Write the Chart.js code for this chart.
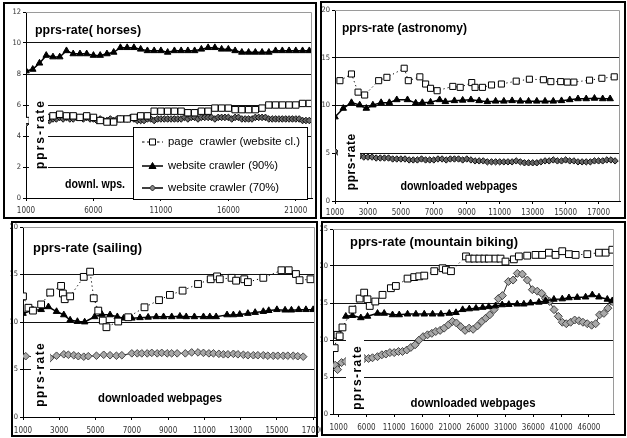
<!DOCTYPE html>
<html>
<head>
<meta charset="utf-8">
<script src="https://cdn.jsdelivr.net/npm/chart.js@4.4.1/dist/chart.umd.min.js"></script>
<style>
  html, body { margin:0; padding:0; background:#fff; }
  #wrap { position:relative; width:627px; height:438px; overflow:hidden; background:#fff; }
  canvas { position:absolute; }
  .bx { position:absolute; box-sizing:border-box; border:2px solid #000; pointer-events:none; }
</style>
</head>
<body>
<div id="wrap">
  <canvas id="c1" width="318" height="220" style="left:0;top:0"></canvas>
  <canvas id="c2" width="309" height="220" style="left:318px;top:0"></canvas>
  <canvas id="c3" width="322" height="218" style="left:0;top:220px"></canvas>
  <canvas id="c4" width="309" height="218" style="left:318px;top:220px"></canvas>
  <div class="bx" style="left:3px;top:2px;width:314px;height:217px"></div>
  <div class="bx" style="left:320px;top:1px;width:306px;height:218px"></div>
  <div class="bx" style="left:11px;top:221px;width:307px;height:216px"></div>
  <div class="bx" style="left:321px;top:221px;width:305px;height:215px"></div>
</div>
<script>
// ---------------- DATA ----------------
const seriesNames = ['page  crawler (website cl.)', 'website crawler (90%)', 'website crawler (70%)'];

// horses
const horsesTicksX = [1000, 6000, 11000, 16000, 21000];
const horsesTicksY = [0, 2, 4, 6, 8, 10, 12];
const horsesX = [1000,1500,2000,2500,3000,3500,4000,4500,5000,5500,6000,6500,7000,7500,8000,8500,9000,9500,10000,10500,11000,11500,12000,12500,13000,13500,14000,14500,15000,15500,16000,16500,17000,17500,18000,18500,19000,19500,20000,20500,21000,21500,22000];
const horsesPage = [5.0,5.1,5.2,5.2,5.3,5.4,5.3,5.3,5.2,5.3,5.2,5.0,4.9,4.9,5.1,5.1,5.2,5.3,5.3,5.6,5.6,5.6,5.6,5.6,5.5,5.5,5.6,5.6,5.8,5.8,5.8,5.7,5.7,5.7,5.7,5.8,6.0,6.0,6.0,6.0,6.0,6.1,6.1];
const horsesSite90 = [8.2,8.3,8.7,9.2,9.1,9.1,9.5,9.3,9.3,9.3,9.2,9.2,9.3,9.4,9.7,9.7,9.7,9.6,9.5,9.5,9.5,9.4,9.5,9.5,9.5,9.5,9.6,9.7,9.7,9.6,9.6,9.5,9.4,9.4,9.4,9.4,9.4,9.5,9.5,9.5,9.5,9.5,9.5];
const horsesX70 = [1000,1250,1500,1750,2000,2250,2500,2750,3000,3250,3500,3750,4000,4250,4500,4750,5000,5250,5500,5750,6000,6250,6500,6750,7000,7250,7500,7750,8000,8250,8500,8750,9000,9250,9500,9750,10000,10250,10500,10750,11000,11250,11500,11750,12000,12250,12500,12750,13000,13250,13500,13750,14000,14250,14500,14750,15000,15250,15500,15750,16000,16250,16500,16750,17000,17250,17500,17750,18000,18250,18500,18750,19000,19250,19500,19750,20000,20250,20500,20750,21000,21250,21500,21750,22000];
const horsesSite70 = [4.8,4.9,4.9,4.9,5.0,
  5.0,4.9,5.0,5.1,5.1,5.2,5.1,5.2,5.1,5.1,5.2,5.2,
  5.1,5.2,5.1,5.1,5.0,5.1,5.0,5.0,5.1,5.0,5.1,5.1,
  5.1,5.1,5.2,5.1,5.0,5.0,5.0,5.1,5.1,5.0,5.1,5.1,
  5.1,5.1,5.1,5.1,5.1,5.1,5.2,5.1,5.2,5.2,5.1,5.2,
  5.2,5.2,5.2,5.1,5.2,5.2,5.2,5.2,5.1,5.2,5.2,5.1,
  5.1,5.1,5.1,5.2,5.2,5.2,5.2,5.1,5.1,5.1,5.1,5.1,
  5.1,5.1,5.1,5.1,5.1,5.0,5.0,5.0];

// astronomy
const astroTicksX = [1000, 3000, 5000, 7000, 9000, 11000, 13000, 15000, 17000];
const astroTicksY = [0, 5, 10, 15, 20];
const astroPageX = [1300,2000,2400,2800,3650,4150,5200,5450,6150,6500,6800,7200,8150,8600,9300,9500,9950,10500,11100,12000,12800,13650,14100,14700,15100,15500,16450,17200,17950];
const astroPage = [12.6,13.3,11.4,11.1,12.6,12.95,13.9,12.6,13.0,12.25,11.8,11.55,12.0,11.9,12.4,11.9,11.9,12.15,12.25,12.55,12.75,12.7,12.5,12.5,12.45,12.45,12.65,12.85,13.0];
const astroX90 = [1000,1500,2000,2500,2900,3300,3800,4300,4750,5400,5900,6300,6800,7350,7700,8250,8750,9250,9750,10250,10750,11250,11750,12250,12750,13250,13750,14250,14750,15250,15750,16250,16750,17250,17700];
const astroSite90 = [8.8,9.7,10.3,10.05,9.7,10.05,10.3,10.3,10.6,10.6,10.25,10.3,10.35,10.6,10.4,10.5,10.55,10.6,10.5,10.4,10.45,10.45,10.5,10.45,10.45,10.45,10.45,10.45,10.5,10.6,10.7,10.7,10.75,10.7,10.7];
const astroX70 = [1000,1250,1500,1750,2000,2250,2500,2750,3000,3250,3500,3750,4000,4250,4500,4750,5000,5250,5500,5750,6000,6250,6500,6750,7000,7250,7500,7750,8000,8250,8500,8750,9000,9250,9500,9750,10000,10250,10500,10750,11000,11250,11500,11750,12000,12250,12500,12750,13000,13250,13500,13750,14000,14250,14500,14750,15000,15250,15500,15750,16000,16250,16500,16750,17000,17250,17500,17750,18000];
const astroSite70 = [5.2,5.0,4.9,4.8,4.8,4.7,
  4.7,4.6,4.6,4.6,4.5,4.5,4.5,4.5,4.4,4.4,4.4,
  4.4,4.3,4.3,4.3,4.4,4.3,4.3,4.3,4.4,4.4,4.3,4.4,
  4.4,4.4,4.3,4.4,4.3,4.2,4.2,4.2,4.1,4.1,4.1,4.1,
  4.1,4.1,4.1,4.2,4.1,4.0,4.0,4.0,4.0,4.1,4.2,4.2,
  4.3,4.2,4.2,4.3,4.2,4.2,4.1,4.1,4.1,4.1,4.2,4.2,
  4.2,4.3,4.3,4.2];

// sailing
const sailTicksX = [1000, 3000, 5000, 7000, 9000, 11000, 13000, 15000, 17000];
const sailTicksY = [0, 5, 10, 15, 20];
const sailPageX = [1000,1300,1550,2000,2500,3100,3200,3300,3600,4350,4700,4900,5150,5400,5600,6250,6800,7700,8500,9100,9800,10650,11350,11700,11850,12500,12750,13200,13400,14250,15250,15650,16050,16250,16850];
const sailPage = [12.7,11.5,11.2,11.85,13.1,13.8,13.0,12.4,12.7,14.75,15.3,12.5,11.2,10.15,9.45,10.05,10.5,11.55,12.3,12.85,13.3,14.0,14.5,14.8,14.5,14.65,14.35,14.5,14.2,14.65,15.45,15.45,15.05,14.4,14.5];
const sailX90 = [1000,1550,2000,2400,2850,3250,3600,4000,4400,4950,5350,5800,6200,6550,7000,7450,7900,8350,8750,9200,9650,10000,10450,10950,11300,11650,12250,12600,12950,13400,13800,14250,14550,15000,15450,15800,16200,16600,17000];
const sailSite90 = [10.9,11.25,11.3,11.6,11.1,10.75,10.2,10.05,10.0,10.55,10.8,10.75,10.55,10.4,10.4,10.45,10.5,10.55,10.55,10.55,10.6,10.55,10.55,10.55,10.55,10.55,10.75,10.75,10.8,10.9,11.0,11.1,11.2,11.3,11.25,11.25,11.3,11.3,11.3];
const sailX70 = [1150,2500,2850,3250,3500,3800,4050,4350,4600,5050,5450,5800,6150,6450,7000,7300,7550,7850,8100,8400,8650,8950,9200,9500,9950,10300,10650,10950,11250,11500,11800,12050,12300,12600,12850,13150,13400,13700,13950,14250,14500,14800,15050,15350,15600,15900,16150,16450];
const sailSite70 = [6.4,6.2,6.45,6.6,6.55,6.5,6.4,6.35,6.4,6.45,6.55,6.5,6.45,6.5,6.7,6.7,6.7,6.7,6.75,6.7,6.75,6.7,6.7,6.7,6.7,6.8,6.8,6.75,6.7,6.7,6.65,6.6,6.6,6.65,6.6,6.55,6.5,6.5,6.5,6.5,6.45,6.45,6.45,6.45,6.45,6.45,6.4,6.35];

// mountain biking
const mtbTicksX = [1000, 6000, 11000, 16000, 21000, 26000, 31000, 36000, 41000, 46000];
const mtbTicksY = [0, 5, 10, 15, 20, 25];
const mtbPageX = [300,800,1200,1700,3500,4800,5600,6200,6600,7600,8900,10400,11300,13400,14600,15500,16400,18200,19700,20300,21200,23900,24500,25400,26300,27200,28000,29200,30100,31000,32500,33400,34900,36400,37600,38800,40000,41200,42400,43600,45700,47800,49000,50200];
const mtbPage = [8.9,10.7,10.5,11.7,14.1,15.6,16.4,15.5,14.6,15.2,16.1,17.0,17.3,18.3,18.5,18.6,18.7,19.3,19.7,19.5,19.3,21.3,21.0,21.0,21.0,21.0,21.0,21.0,21.0,20.6,20.9,21.3,21.4,21.5,21.5,21.8,21.5,22.0,21.6,21.5,21.6,21.8,21.8,22.2];
const mtbX90 = [2300,3500,5000,6200,8000,9200,10700,11900,13400,14900,16400,17900,19400,20900,22100,23300,24500,25700,26900,28000,29200,30400,31600,33100,34300,35500,37000,38200,39700,41200,42400,43900,45400,46600,47800,49300,50200];
const mtbSite90 = [13.2,13.3,13.0,13.2,13.6,13.6,13.4,13.4,13.5,13.5,13.5,13.5,13.5,13.6,13.7,14.1,14.2,14.3,14.4,14.5,14.6,14.75,14.8,14.85,14.85,15.0,15.1,15.3,15.5,15.55,15.7,15.75,15.8,16.1,15.8,15.5,15.3];
const mtbX70 = [400,820,1540,2320,3210,4110,5610,6390,7100,8000,8780,9500,10220,11000,11770,12490,13270,13990,14760,15480,16200,16980,17760,18470,19250,19970,20750,21470,22180,22960,23740,24460,25180,25950,26730,27450,28170,28950,29720,30440,31520,32360,33130,34030,34930,35830,36720,37500,38220,38940,39720,40490,41210,41930,42710,43430,44200,44920,45700,46480,47200,47910,48690,49410,50190];
const mtbSite70 = [6.6,6.0,6.95,7.1,7.2,7.3,7.5,7.5,7.6,7.75,8.0,8.1,8.3,8.3,8.45,8.45,8.65,9.0,9.35,10.0,10.45,10.7,10.9,11.15,11.3,11.6,12.05,12.5,12.3,11.8,11.3,11.6,11.45,11.9,12.5,12.95,13.4,14.1,15.6,16.0,17.9,18.1,19.0,18.9,18.1,16.8,16.6,16.3,15.6,15.2,14.1,13.2,12.4,12.2,12.4,12.7,12.6,12.4,12.2,12.0,12.2,13.4,13.6,14.3,15.2];

// ---------------- HELPERS ----------------
const NARROW = "'Liberation Sans Narrow','Arial Narrow','DejaVu Sans Condensed','Liberation Sans',sans-serif";
const SANS = "'Liberation Sans',Arial,Helvetica,sans-serif";
const pts = (xs, ys) => xs.map((x, i) => ({ x: x, y: ys[i] }));

function fitText(ctx, text, x, y, w, align) {
  const nat = ctx.measureText(text).width || 1;
  ctx.save();
  ctx.translate(x, y);
  ctx.scale(w / nat, 1);
  ctx.textAlign = align || 'left';
  ctx.fillText(text, 0, 0);
  ctx.restore();
}

function marker(ctx, kind, x, y) {
  ctx.save();
  ctx.lineWidth = 1;
  ctx.setLineDash([]);
  ctx.beginPath();
  if (kind === 'sq') {
    ctx.rect(x - 3, y - 3, 6, 6);
    ctx.fillStyle = '#fff'; ctx.fill(); ctx.strokeStyle = '#000'; ctx.stroke();
  } else if (kind === 'tri') {
    ctx.moveTo(x, y - 3.5); ctx.lineTo(x + 3.5, y + 2.5); ctx.lineTo(x - 3.5, y + 2.5); ctx.closePath();
    ctx.fillStyle = '#000'; ctx.fill(); ctx.strokeStyle = '#000'; ctx.stroke();
  } else {
    ctx.moveTo(x, y - 3); ctx.lineTo(x + 3, y); ctx.lineTo(x, y + 3); ctx.lineTo(x - 3, y); ctx.closePath();
    ctx.fillStyle = '#888'; ctx.fill(); ctx.strokeStyle = '#222'; ctx.stroke();
  }
  ctx.restore();
}

const overlayPlugin = {
  id: 'overlay',
  afterDraw(chart, args, o) {
    const ctx = chart.ctx, a = chart.chartArea;
    ctx.save();
    ctx.strokeStyle = '#9a9a9a'; ctx.lineWidth = 1;
    ctx.beginPath();
    ctx.moveTo(a.left, a.top + 0.5); ctx.lineTo(a.right - 0.5, a.top + 0.5); ctx.lineTo(a.right - 0.5, a.bottom);
    ctx.stroke();
    ctx.fillStyle = '#000';
    ctx.textBaseline = 'middle';
    ctx.font = 'bold ' + o.title.size + 'px ' + SANS;
    fitText(ctx, o.title.text, o.title.x, o.title.y, o.title.w, 'left');
    const b = o.yTitle.box;
    ctx.fillStyle = '#fff';
    ctx.fillRect(b[0], b[1], b[2], b[3]);
    ctx.fillStyle = '#000';
    ctx.save();
    ctx.translate(o.yTitle.cx, o.yTitle.cy);
    ctx.rotate(-Math.PI / 2);
    ctx.font = 'bold 12px ' + SANS;
    const t = o.yTitle.text;
    const nat = ctx.measureText(t).width;
    const sp = (o.yTitle.len - nat) / (t.length);
    ctx.textAlign = 'center';
    if ('letterSpacing' in ctx && sp > 0) {
      ctx.letterSpacing = sp.toFixed(2) + 'px';
      ctx.fillText(t, sp / 2, 0);
    } else {
      fitText(ctx, t, 0, 0, o.yTitle.len, 'center');
    }
    ctx.restore();
    ctx.font = 'bold ' + o.xTitle.size + 'px ' + SANS;
    fitText(ctx, o.xTitle.text, o.xTitle.cx, o.xTitle.cy, o.xTitle.w, 'center');
    if (o.legend) {
      const L = o.legend;
      ctx.fillStyle = '#fff';
      ctx.fillRect(L.box[0], L.box[1], L.box[2], L.box[3]);
      ctx.strokeStyle = '#000'; ctx.lineWidth = 1;
      ctx.strokeRect(L.box[0] + 0.5, L.box[1] + 0.5, L.box[2] - 1, L.box[3] - 1);
      const kinds = ['sq', 'tri', 'dia'];
      L.rows.forEach((ry, i) => {
        ctx.save();
        ctx.strokeStyle = '#000';
        ctx.lineWidth = i === 0 ? 1.2 : 1.5;
        ctx.setLineDash(i === 0 ? [2.5, 2.5] : []);
        ctx.beginPath(); ctx.moveTo(L.lineX[0], ry); ctx.lineTo(L.lineX[1], ry); ctx.stroke();
        ctx.restore();
        marker(ctx, kinds[i], (L.lineX[0] + L.lineX[1]) / 2, ry);
        ctx.fillStyle = '#000';
        ctx.font = '11px ' + SANS;
        fitText(ctx, seriesNames[i], L.textX, ry, L.textW[i], 'left');
      });
    }
    ctx.restore();
  }
};

function makeChart(id, cfg) {
  const tickFont = { family: NARROW, size: 8 };
  return new Chart(document.getElementById(id), {
    type: 'line',
    data: { datasets: cfg.datasets },
    options: {
      responsive: false, animation: false, events: [], devicePixelRatio: 1,
      layout: { padding: cfg.padding },
      plugins: { legend: { display: false }, tooltip: { enabled: false }, title: { display: false }, overlay: cfg.overlay },
      scales: {
        x: {
          type: 'linear', min: cfg.xMin, max: cfg.xMax,
          afterBuildTicks: s => { s.ticks = cfg.xTicks.map(v => ({ value: v })); },
          afterFit: s => { s.height = cfg.xH; s.paddingLeft = 0; s.paddingRight = 0; },
          grid: { drawOnChartArea: false, drawTicks: true, tickLength: 3, tickColor: '#000' },
          border: { color: '#000', width: 1 },
          ticks: { autoSkip: false, maxRotation: 0, minRotation: 0, padding: cfg.xPad, font: tickFont, color: '#333', callback: v => String(v) }
        },
        y: {
          type: 'linear', min: 0, max: cfg.yMax,
          afterBuildTicks: s => { s.ticks = cfg.yTicks.map(v => ({ value: v })); },
          afterFit: s => { s.width = cfg.yW; s.paddingTop = 0; s.paddingBottom = 0; },
          grid: {
            color: c => (c.tick && c.tick.value > 0 && c.tick.value < cfg.yMax) ? '#111' : 'rgba(0,0,0,0)',
            tickColor: '#000', tickLength: 3, lineWidth: 1
          },
          border: { color: '#000', width: 1 },
          ticks: { padding: 2, font: { family: NARROW, size: 7.5 }, color: '#333', callback: v => String(v) }
        }
      }
    },
    plugins: [overlayPlugin]
  });
}

function sets(pageXY, tri, dia, sqR, diaR, diaFill, diaEdge) {
  return [
    { data: pageXY, borderColor: '#000', borderWidth: 1, borderDash: [1.2, 3], pointStyle: 'rect', pointRadius: sqR,
      pointBackgroundColor: '#fff', pointBorderColor: '#000', pointBorderWidth: 1, tension: 0, fill: false },
    { data: tri, borderColor: '#000', borderWidth: 1.5, pointStyle: 'triangle', pointRadius: 3.8,
      pointBackgroundColor: '#000', pointBorderColor: '#000', pointBorderWidth: 1, tension: 0, fill: false },
    { data: dia, borderColor: '#222', borderWidth: 1, pointStyle: 'rectRot', pointRadius: diaR,
      pointBackgroundColor: diaFill, pointBorderColor: diaEdge, pointBorderWidth: 1, tension: 0, fill: false }
  ];
}

// ---------------- CHARTS ----------------
makeChart('c1', {
  datasets: sets(pts(horsesX, horsesPage), pts(horsesX, horsesSite90), pts(horsesX70, horsesSite70), 4.5, 3.3, '#666', '#111'),
  padding: { left: 0, top: 12, right: 6, bottom: 0 }, yW: 26, xH: 22, xPad: 5,
  xMin: 1000, xMax: 22200, xTicks: horsesTicksX, yMax: 12, yTicks: horsesTicksY,
  overlay: {
    title: { text: 'pprs-rate( horses)', x: 35, y: 31, w: 106, size: 12 },
    yTitle: { text: 'pprs-rate', cx: 41, cy: 135, len: 70, box: [29, 85, 19, 106] },
    xTitle: { text: 'downl. wps.', cx: 95, cy: 185, w: 60, size: 12 },
    legend: { box: [133, 127, 175, 73], rows: [142, 166, 188], lineX: [142, 163], textX: 168, textW: [132, 110, 111] }
  }
});

makeChart('c2', {
  datasets: sets(pts(astroPageX, astroPage), pts(astroX90, astroSite90), pts(astroX70, astroSite70), 4.3, 3.2, '#666', '#111'),
  padding: { left: 0, top: 10, right: 7, bottom: 0 }, yW: 17, xH: 19, xPad: 4,
  xMin: 1000, xMax: 18300, xTicks: astroTicksX, yMax: 20, yTicks: astroTicksY,
  overlay: {
    title: { text: 'pprs-rate (astronomy)', x: 24, y: 29, w: 125, size: 12 },
    yTitle: { text: 'pprs-rate', cx: 34, cy: 162, len: 57, box: [20, 125, 22, 71] },
    xTitle: { text: 'downloaded webpages', cx: 141, cy: 187, w: 117, size: 12 }
  }
});

makeChart('c3', {
  datasets: sets(pts(sailPageX, sailPage), pts(sailX90, sailSite90), pts(sailX70, sailSite70), 4.8, 3.8, '#a8a8a8', '#444'),
  padding: { left: 0, top: 7, right: 7, bottom: 0 }, yW: 23, xH: 21, xPad: 6,
  xMin: 1000, xMax: 17100, xTicks: sailTicksX, yMax: 20, yTicks: sailTicksY,
  overlay: {
    title: { text: 'pprs-rate (sailing)', x: 33, y: 28, w: 109, size: 13 },
    yTitle: { text: 'pprs-rate', cx: 41, cy: 155, len: 65, box: [31, 115, 19, 77] },
    xTitle: { text: 'downloaded webpages', cx: 160, cy: 178, w: 124, size: 13 }
  }
});

makeChart('c4', {
  datasets: sets(pts(mtbPageX, mtbPage), pts(mtbX90, mtbSite90), pts(mtbX70, mtbSite70), 4.8, 4, '#a8a8a8', '#444'),
  padding: { left: 0, top: 9, right: 13, bottom: 0 }, yW: 15, xH: 24, xPad: 6,
  xMin: 0, xMax: 50500, xTicks: mtbTicksX, yMax: 25, yTicks: mtbTicksY,
  overlay: {
    title: { text: 'pprs-rate (mountain biking)', x: 32, y: 22, w: 168, size: 13 },
    yTitle: { text: 'pprs-rate', cx: 40, cy: 158, len: 65, box: [28, 115, 18, 77] },
    xTitle: { text: 'downloaded webpages', cx: 155, cy: 183, w: 125, size: 13 }
  }
});
</script>
</body>
</html>
